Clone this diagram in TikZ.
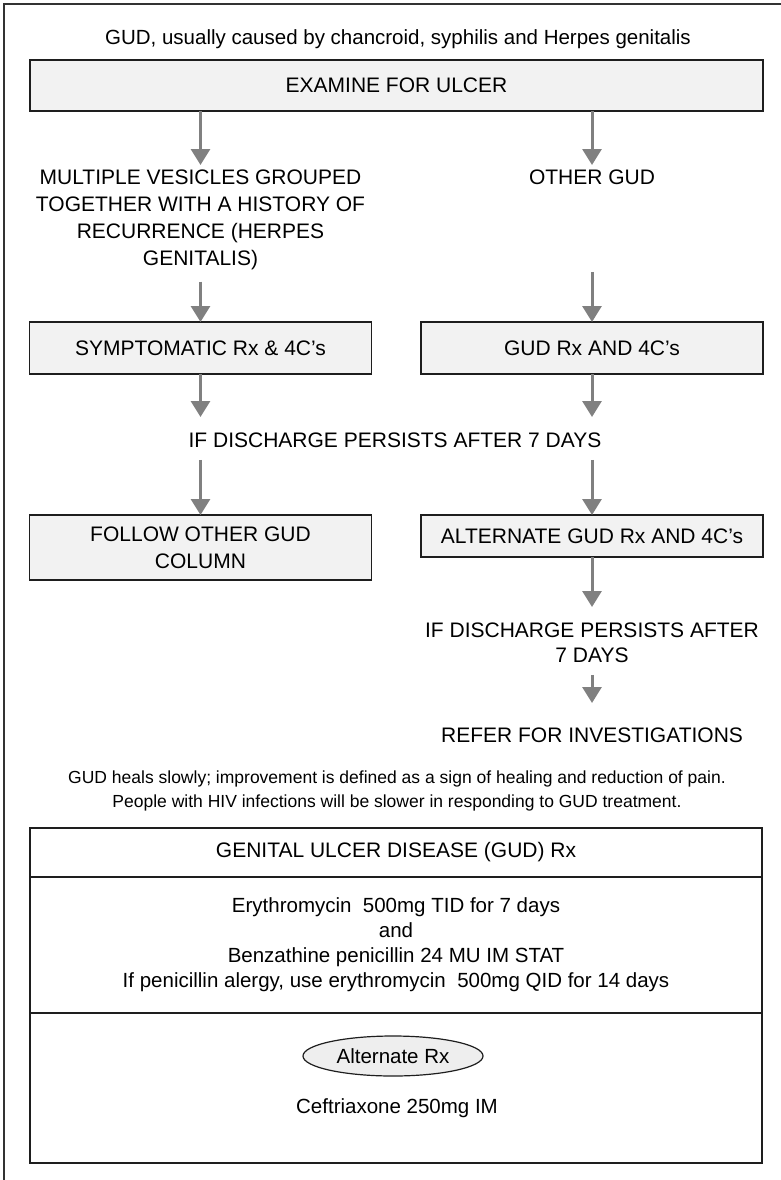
\documentclass[tikz,border=0pt]{standalone}
\usepackage{fontspec}
\setmainfont{Liberation Sans}
\usetikzlibrary{arrows.meta,shapes.geometric}
\definecolor{boxfill}{HTML}{F2F2F2}
\definecolor{ovalfill}{HTML}{EEEEEE}
\definecolor{arrowgray}{HTML}{808080}
\definecolor{edgecol}{HTML}{1E1E1E}
\definecolor{framecol}{HTML}{333333}
\begin{document}
\begin{tikzpicture}[x=1pt,y=-1pt,
  every node/.style={inner sep=0pt, outer sep=0pt, text=black},
  flowtext/.style={font=\fontsize{21}{27}\selectfont, align=center},
  stepbox/.style={draw=edgecol, line width=1.4pt, fill=boxfill,
    minimum width=342pt, minimum height=52pt,
    font=\fontsize{21}{27}\selectfont, align=center},
  tablecell/.style={draw=edgecol, line width=1.5pt, minimum width=732pt,
    align=center},
  flowarrow/.style={draw=arrowgray, line width=3pt,
    -{Triangle[width=19pt,length=16pt]}},
  frameline/.style={draw=framecol, line width=1.6pt}
]
\useasboundingbox (0,0) rectangle (781,1180);

% page frame
\draw[frameline] (4,1180) -- (4,4) -- (781,4);

% heading
\node[font=\fontsize{20.5}{25}\selectfont, anchor=base] (title) at (398,45)
  {GUD, usually caused by chancroid, syphilis and Herpes genitalis};

% flow chart
\node[stepbox, minimum width=733pt, minimum height=51pt] (examine) at (396.5,85.5)
  {EXAMINE FOR ULCER};

\node[flowtext, anchor=north] (multi) at (200.5,170)
  {MULTIPLE VESICLES GROUPED\\TOGETHER WITH A HISTORY OF\\RECURRENCE (HERPES\\GENITALIS)};
\node[flowtext, anchor=north] (other) at (592,170) {OTHER GUD};

\node[stepbox] (symp) at (200.5,348) {SYMPTOMATIC Rx \& 4C’s};
\node[stepbox] (gudrx) at (592,348) {GUD Rx AND 4C’s};

\node[flowtext, anchor=north] (ifd) at (395,432.5)
  {IF DISCHARGE PERSISTS AFTER 7 DAYS};

\node[stepbox, minimum height=65pt] (follow) at (200.5,547.5)
  {FOLLOW OTHER GUD\\COLUMN};
\node[stepbox, minimum height=42pt] (altgud) at (592,536)
  {ALTERNATE GUD Rx AND 4C’s};

\node[flowtext, anchor=north, font=\fontsize{21}{25}\selectfont] (ifd2) at (592,623)
  {IF DISCHARGE PERSISTS AFTER\\7 DAYS};
\node[flowtext, anchor=north] (refer) at (592,728) {REFER FOR INVESTIGATIONS};

% connectors
\draw[flowarrow, shorten >=5pt] (examine.south -| multi.north) -- (multi.north);
\draw[flowarrow, shorten >=5pt] (examine.south -| other.north) -- (other.north);
\draw[flowarrow, shorten <=11.5pt] (multi.south) -- (symp.north);
\draw[flowarrow, shorten <=87pt] (other.south) -- (gudrx.north);
\draw[flowarrow, shorten >=15.5pt] (symp.south) -- (symp.south |- ifd.north);
\draw[flowarrow, shorten >=15.5pt] (gudrx.south) -- (gudrx.south |- ifd.north);
\draw[flowarrow, shorten <=12.5pt] (ifd.south -| follow.north) -- (follow.north);
\draw[flowarrow, shorten <=12.5pt] (ifd.south -| altgud.north) -- (altgud.north);
\draw[flowarrow, shorten >=16pt] (altgud.south) -- (ifd2.north);
\draw[flowarrow, shorten <=12pt, shorten >=25pt] (ifd2.south) -- (refer.north);

% remarks
\node[font=\fontsize{17.5}{24}\selectfont, align=center, anchor=north] (note) at (397,771)
  {GUD heals slowly; improvement is defined as a sign of healing and reduction of pain.\\
   People with HIV infections will be slower in responding to GUD treatment.};

% treatment table
\node[tablecell, minimum height=49pt, font=\fontsize{21}{25}\selectfont] (rxhead) at (396,852.5)
  {GENITAL ULCER DISEASE (GUD) Rx};
\node[tablecell, minimum height=136pt, font=\fontsize{20.5}{25}\selectfont] (rxbody) at (396,945)
  {Erythromycin\ \ 500mg TID for 7 days\\and\\Benzathine penicillin 24 MU IM STAT\\
   If penicillin alergy, use erythromycin\ \ 500mg QID for 14 days};
\node[tablecell, minimum height=150pt] (rxalt) at (396,1088) {};
\node[ellipse, draw=edgecol, line width=1.2pt, fill=ovalfill, minimum width=180pt,
  minimum height=40pt, font=\fontsize{20.5}{25}\selectfont] (altoval) at (393,1056)
  {Alternate Rx};
\node[font=\fontsize{20.5}{25}\selectfont] (ceft) at (397,1108) {Ceftriaxone 250mg IM};
\end{tikzpicture}
\end{document}
